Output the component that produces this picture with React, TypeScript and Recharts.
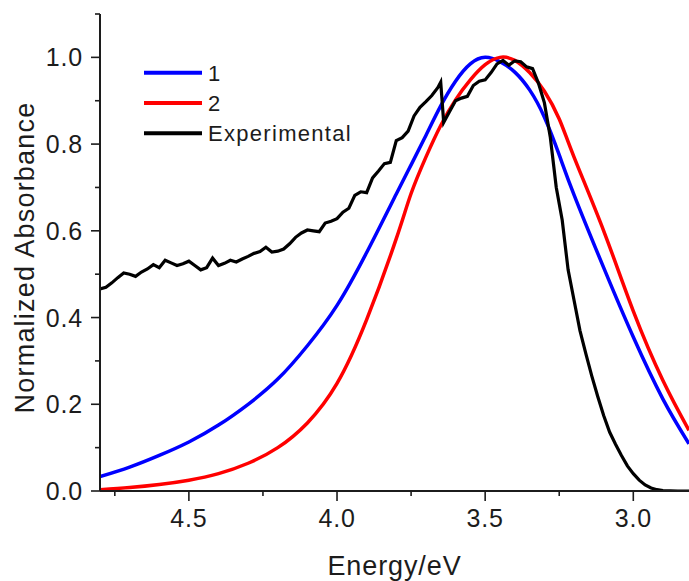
import React from "react";
import { LineChart, Line, XAxis, YAxis, Legend } from "recharts";

// simulated spectra, model 1 and 2
const energy1 = [4.8, 4.7, 4.6, 4.5, 4.4, 4.3, 4.2, 4.1, 4.0, 3.9, 3.8, 3.75, 3.7, 3.65, 3.6, 3.55, 3.5, 3.45, 3.4, 3.35, 3.3, 3.25, 3.2, 3.1, 3.0, 2.9, 2.812];
const absorb1 = [0.033, 0.055, 0.082, 0.113, 0.152, 0.2, 0.258, 0.335, 0.428, 0.55, 0.685, 0.752, 0.82, 0.888, 0.945, 0.985, 1.0, 0.99, 0.966, 0.925, 0.862, 0.775, 0.683, 0.515, 0.355, 0.212, 0.109];

const energy2 = [4.8, 4.7, 4.6, 4.5, 4.4, 4.3, 4.2, 4.1, 4.0, 3.9, 3.8, 3.75, 3.7, 3.65, 3.6, 3.55, 3.5, 3.45, 3.4, 3.35, 3.3, 3.25, 3.2, 3.1, 3.0, 2.9, 2.812];
const absorb2 = [0.003, 0.008, 0.015, 0.025, 0.04, 0.064, 0.1, 0.157, 0.248, 0.395, 0.582, 0.686, 0.77, 0.843, 0.902, 0.948, 0.983, 1.0, 0.993, 0.965, 0.922, 0.858, 0.77, 0.6, 0.415, 0.255, 0.14];

// measured spectrum
const energyExp = [
  4.8, 4.78, 4.76, 4.74, 4.72, 4.7, 4.68, 4.66, 4.64, 4.62, 4.6, 4.58, 4.56, 4.54, 4.52, 4.5, 4.48, 4.46, 4.44, 4.42,
  4.4, 4.38, 4.36, 4.34, 4.32, 4.3, 4.28, 4.26, 4.24, 4.22, 4.2, 4.18, 4.16, 4.14, 4.12, 4.1, 4.08, 4.06, 4.04, 4.02,
  4.0, 3.98, 3.96, 3.94, 3.92, 3.9, 3.88, 3.86, 3.84, 3.82, 3.8, 3.78, 3.76, 3.74, 3.72, 3.7, 3.68, 3.66, 3.65, 3.64,
  3.62, 3.6, 3.58, 3.56, 3.54, 3.52, 3.5, 3.48, 3.46, 3.44, 3.42, 3.4, 3.38, 3.36, 3.34, 3.32, 3.3, 3.28, 3.26, 3.24,
  3.22, 3.2, 3.18, 3.16, 3.14, 3.12, 3.1, 3.08, 3.06, 3.04, 3.02, 3.0, 2.98, 2.96, 2.94, 2.92, 2.9, 2.85, 2.812,
];
const absorbExp = [
  0.466, 0.47, 0.48, 0.492, 0.503, 0.5, 0.495, 0.505, 0.512, 0.522, 0.515, 0.532, 0.526, 0.52, 0.524, 0.53, 0.52, 0.51, 0.515, 0.537,
  0.52, 0.525, 0.532, 0.528, 0.535, 0.541, 0.548, 0.552, 0.562, 0.551, 0.553, 0.558, 0.57, 0.585, 0.595, 0.602, 0.6, 0.598, 0.618, 0.622,
  0.628, 0.643, 0.652, 0.682, 0.69, 0.688, 0.722, 0.738, 0.755, 0.758, 0.808, 0.815, 0.83, 0.865, 0.885, 0.898, 0.912, 0.93, 0.943, 0.85,
  0.875, 0.9, 0.906, 0.91, 0.935, 0.945, 0.948, 0.965, 0.985, 0.993, 0.982, 0.992, 0.99, 0.978, 0.974, 0.94, 0.895, 0.815, 0.7, 0.625,
  0.51, 0.44, 0.37, 0.316, 0.265, 0.218, 0.174, 0.136, 0.108, 0.082, 0.058, 0.04, 0.025, 0.014, 0.007, 0.003, 0.001, 0.0, 0.0,
];

const seriesNames = ["1", "2", "Experimental"];
const seriesColors = ["#0000ff", "#ff0000", "#000000"];

const xMajor = [4.5, 4.0, 3.5, 3.0];
const xTicks = [4.75, 4.5, 4.25, 4.0, 3.75, 3.5, 3.25, 3.0];
const yMajor = [0, 0.2, 0.4, 0.6, 0.8, 1.0];
const yTicks = [0, 0.1, 0.2, 0.3, 0.4, 0.5, 0.6, 0.7, 0.8, 0.9, 1.0, 1.1];

const toRows = (xs: number[], ys: number[]) => xs.map((e, i) => ({ e, a: ys[i] }));
const data1 = toRows(energy1, absorb1);
const data2 = toRows(energy2, absorb2);
const dataExp = toRows(energyExp, absorbExp);

const FONT = '"Liberation Sans", Arial, sans-serif';
const INK = "#1c1c1c";

const XTick = (props: any) => {
  const { x, y, payload } = props;
  const major = xMajor.includes(payload.value);
  return (
    <g>
      <line x1={x} x2={x} y1={y} y2={y + (major ? 10 : 5)} stroke={INK} strokeWidth={1.6} />
      {major && (
        <text x={x} y={y + 36} textAnchor="middle" fontSize={25} letterSpacing={0.8} fill={INK} fontFamily={FONT}>
          {payload.value.toFixed(1)}
        </text>
      )}
    </g>
  );
};

const YTick = (props: any) => {
  const { x, y, payload } = props;
  const major = yMajor.includes(payload.value);
  return (
    <g>
      <line x1={x} x2={x - (major ? 9 : 5)} y1={y} y2={y} stroke={INK} strokeWidth={1.6} />
      {major && (
        <text x={x - 17} y={y + 9} textAnchor="end" fontSize={25} letterSpacing={0.8} fill={INK} fontFamily={FONT}>
          {payload.value.toFixed(1)}
        </text>
      )}
    </g>
  );
};

const XTitle = (props: any) => {
  const vb = props.viewBox;
  return (
    <text x={vb.x + vb.width / 2} y={vb.y + 84} textAnchor="middle" fontSize={27} letterSpacing={0.9} fill={INK} fontFamily={FONT}>
      Energy/eV
    </text>
  );
};

const YTitle = (props: any) => {
  const vb = props.viewBox;
  const cx = vb.x + 33.5;
  const cy = vb.y + vb.height / 2 + 5;
  return (
    <text x={cx} y={cy} transform={`rotate(-90, ${cx}, ${cy})`} textAnchor="middle" fontSize={27} letterSpacing={1.2} fill={INK} fontFamily={FONT}>
      Normalized Absorbance
    </text>
  );
};

const LegendBox = () => (
  <svg width={400} height={150} style={{ display: "block" }}>
    {seriesNames.map((name, i) => {
      const cy = 72.7 + i * 30.3;
      return (
        <g key={name}>
          <line x1={144} x2={202} y1={cy} y2={cy} stroke={seriesColors[i]} strokeWidth={4} />
          <text x={208} y={cy + 8} fontSize={22} letterSpacing={1.3} fill={INK} fontFamily={FONT}>
            {name}
          </text>
        </g>
      );
    })}
  </svg>
);

export default function App() {
  return (
    <div style={{ position: "absolute", left: 0, top: 0, width: 689, height: 581, overflow: "hidden", background: "#fff" }}>
      <LineChart width={689} height={581} margin={{ top: 14, right: 0, bottom: 0, left: 0 }}>
        <XAxis
          type="number"
          dataKey="e"
          domain={[2.812, 4.8]}
          reversed
          allowDataOverflow
          ticks={xTicks}
          interval={0}
          height={90}
          tickSize={0}
          tickMargin={0}
          tickLine={false}
          tick={<XTick />}
          axisLine={{ stroke: INK, strokeWidth: 2 }}
          label={<XTitle />}
        />
        <YAxis
          type="number"
          dataKey="a"
          domain={[0, 1.1]}
          allowDataOverflow
          ticks={yTicks}
          interval={0}
          width={100}
          tickSize={0}
          tickMargin={0}
          tickLine={false}
          tick={<YTick />}
          axisLine={{ stroke: INK, strokeWidth: 2 }}
          label={<YTitle />}
        />
        <Legend
          verticalAlign="middle"
          align="center"
          layout="horizontal"
          wrapperStyle={{ left: 0, top: 0, width: 400, height: 150 }}
          content={<LegendBox />}
        />
        <Line data={data1} dataKey="a" name={seriesNames[0]} type="natural" stroke={seriesColors[0]} strokeWidth={3.5} dot={false} isAnimationActive={false} />
        <Line data={data2} dataKey="a" name={seriesNames[1]} type="natural" stroke={seriesColors[1]} strokeWidth={3.5} dot={false} isAnimationActive={false} />
        <Line data={dataExp} dataKey="a" name={seriesNames[2]} type="linear" stroke={seriesColors[2]} strokeWidth={3.2} dot={false} isAnimationActive={false} />
      </LineChart>
    </div>
  );
}
